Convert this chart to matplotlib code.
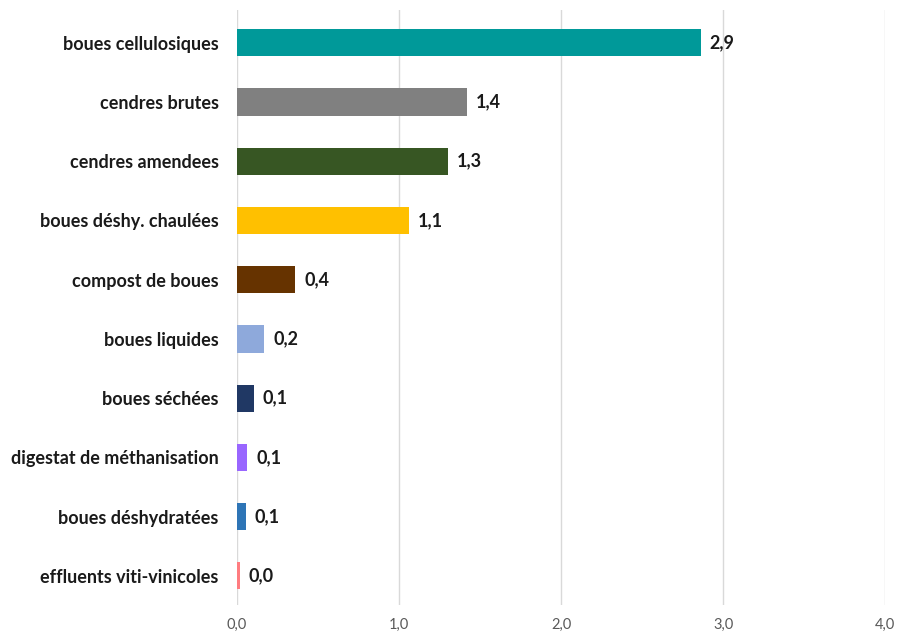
import matplotlib.pyplot as plt

# Catégories (de haut en bas) et valeurs
categories = ['boues cellulosiques', 'cendres brutes', 'cendres amendees',
              'boues déshy. chaulées', 'compost de boues', 'boues liquides',
              'boues séchées', 'digestat de méthanisation',
              'boues déshydratées', 'effluents viti-vinicoles']
valeurs = [2.86, 1.42, 1.30, 1.06, 0.36, 0.17, 0.105, 0.065, 0.057, 0.02]
couleurs = ['#009999', '#808080', '#375623', '#FFC000', '#663300',
            '#8EA9DB', '#203864', '#9966FF', '#2E75B6', '#FF7C80']
ticks_x = [0, 1, 2, 3, 4]

plt.rcParams['font.family'] = ['Lato', 'DejaVu Sans']

fig = plt.figure(figsize=(8.97, 6.36), dpi=100)
ax = fig.add_axes([0.264, 0.048, 0.723, 0.936])

pos = list(range(len(categories)))
ax.barh(pos, valeurs, height=0.46, color=couleurs, zorder=3)

# étiquettes de valeur au bout des barres
for y, v in zip(pos, valeurs):
    ax.text(v + 0.055, y, f'{v:.1f}'.replace('.', ','), va='center', ha='left',
            fontsize=13, fontweight='bold', color='#1a1a1a')

ax.set_yticks(pos)
ax.set_yticklabels(categories, fontsize=13, fontweight='bold', color='#1a1a1a')
ax.set_ylim(len(categories) - 0.5, -0.55)

ax.set_xlim(0, 4)
ax.set_xticks(ticks_x)
ax.set_xticklabels([f'{t:.1f}'.replace('.', ',') for t in ticks_x],
                   fontsize=10.5, color='#595959')

ax.grid(axis='x', color='#d9d9d9', linewidth=1, zorder=0)
for s in ax.spines.values():
    s.set_visible(False)
ax.tick_params(axis='both', length=0)
ax.tick_params(axis='y', pad=13)
ax.tick_params(axis='x', pad=9)

fig.savefig('out.png', dpi=100)
